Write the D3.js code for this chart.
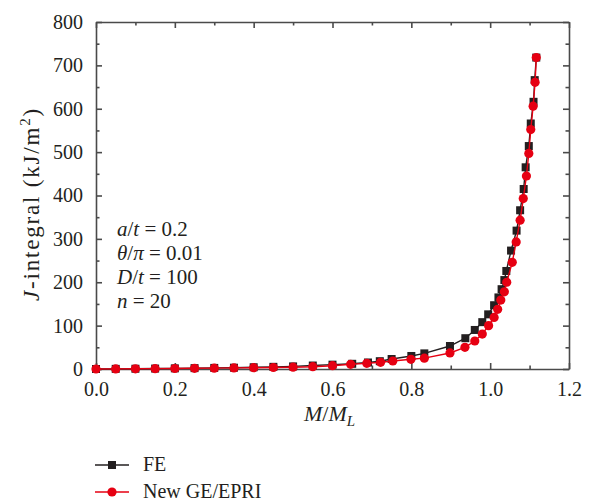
<!DOCTYPE html>
<html>
<head>
<meta charset="utf-8">
<script src="https://cdn.jsdelivr.net/npm/d3@7"></script>
<style>
    body { margin: 0; background: #fff; }
    #plate text { font-family: "Liberation Serif" !important; }
    .axis path, .axis line { stroke: #4a4a4a; stroke-width: 1.6; }
</style>
</head>
<body>
<svg id="plate" width="597" height="501" font-family="Liberation Serif"></svg>
<script>
// FE results
var feX = [0, 0.05, 0.1, 0.15, 0.2, 0.25, 0.3, 0.35, 0.4, 0.45, 0.5, 0.55, 0.6, 0.65, 0.69, 0.72,
    0.75, 0.8, 0.833, 0.898, 0.937, 0.961, 0.98, 0.995, 1.01, 1.021, 1.029, 1.036, 1.041, 1.053,
    1.067, 1.076, 1.085, 1.09, 1.098, 1.103, 1.11, 1.113, 1.117];
var feJ = [0, 0.3, 0.6, 1, 1.5, 2, 2.5, 3, 4, 5, 6, 8, 10, 12, 15, 18,
    23, 30, 36, 53, 71, 90, 108, 126, 147, 165, 184, 205, 226, 273,
    319, 366, 415, 465, 514, 566, 616, 666, 718];

// New GE/EPRI estimation
var geX = [0, 0.05, 0.1, 0.15, 0.2, 0.25, 0.3, 0.35, 0.4, 0.45, 0.5, 0.55, 0.6, 0.646, 0.687, 0.722,
    0.753, 0.799, 0.833, 0.898, 0.936, 0.961, 0.98, 0.996, 1.01, 1.019, 1.027, 1.036, 1.042, 1.056,
    1.066, 1.076, 1.084, 1.092, 1.098, 1.103, 1.109, 1.114, 1.117];
var geJ = [0, 0.2, 0.5, 0.8, 1.2, 1.6, 2, 2.5, 3, 3.5, 4.2, 5.3, 7.6, 10.8, 13, 15.4,
    18.4, 22.4, 25, 37, 50, 64.5, 80.6, 100, 119, 137.5, 159, 178, 200, 246,
    293, 343, 393, 445, 497, 552, 606, 661, 718];

var xTicks = [0, 0.2, 0.4, 0.6, 0.8, 1.0, 1.2];
var xMinor = [0.1, 0.3, 0.5, 0.7, 0.9, 1.1];
var yTicks = [0, 100, 200, 300, 400, 500, 600, 700, 800];
var yMinor = [50, 150, 250, 350, 450, 550, 650, 750];
var notes = [
    [['a', 1], ['/', 0], ['t', 1], [' = 0.2', 0]],
    [['\u03B8', 1], ['/', 0], ['\u03C0', 1], [' = 0.01', 0]],
    [['D', 1], ['/', 0], ['t', 1], [' = 100', 0]],
    [['n', 1], [' = 20', 0]]
];
var legendNames = ['FE', 'New GE/EPRI'];

var black = '#231f20', red = '#e60012';

var margin = {top: 22, right: 28, bottom: 132, left: 96};
var width = 597 - margin.left - margin.right;
var height = 501 - margin.top - margin.bottom;

var x = d3.scaleLinear().domain([0, 1.2]).range([0, width]);
var y = d3.scaleLinear().domain([0, 800]).range([height, 0]);

var svg = d3.select('#plate')
    .append('g')
    .attr('transform', 'translate(' + margin.left + ',' + margin.top + ')');

// minor ticks first
svg.append('g').attr('class', 'axis')
    .attr('transform', 'translate(0,' + height + ')')
    .call(d3.axisBottom(x).tickValues(xMinor).tickSize(-3.5).tickFormat(''))
    .select('.domain').remove();
svg.append('g').attr('class', 'axis')
    .call(d3.axisTop(x).tickValues(xMinor).tickSize(-3.5).tickFormat(''))
    .select('.domain').remove();
svg.append('g').attr('class', 'axis')
    .call(d3.axisLeft(y).tickValues(yMinor).tickSize(-3.5).tickFormat(''))
    .select('.domain').remove();
svg.append('g').attr('class', 'axis')
    .attr('transform', 'translate(' + width + ',0)')
    .call(d3.axisRight(y).tickValues(yMinor).tickSize(-3.5).tickFormat(''))
    .select('.domain').remove();

// major axes
svg.append('g').attr('class', 'axis')
    .attr('transform', 'translate(0,' + height + ')')
    .call(d3.axisBottom(x).tickValues(xTicks).tickSize(-6).tickSizeOuter(0).tickPadding(13)
        .tickFormat(d3.format('.1f')));
svg.append('g').attr('class', 'axis')
    .call(d3.axisTop(x).tickValues(xTicks).tickSize(-6).tickSizeOuter(0).tickFormat(''));
svg.append('g').attr('class', 'axis')
    .call(d3.axisLeft(y).tickValues(yTicks).tickSize(-6).tickSizeOuter(0).tickPadding(13));
svg.append('g').attr('class', 'axis')
    .attr('transform', 'translate(' + width + ',0)')
    .call(d3.axisRight(y).tickValues(yTicks).tickSize(-6).tickSizeOuter(0).tickFormat(''));

svg.selectAll('.axis').attr('font-family', null).attr('font-size', null);
svg.selectAll('.axis text').style('font-size', '20px');

// lines
var feData = feX.map(function(v, i) { return {x: v, j: feJ[i]}; });
var geData = geX.map(function(v, i) { return {x: v, j: geJ[i]}; });
var line = d3.line()
    .x(function(d) { return x(d.x); })
    .y(function(d) { return y(d.j); });

svg.append('path').datum(feData)
    .attr('d', line).attr('fill', 'none').attr('stroke', black).attr('stroke-width', 1.4);
svg.selectAll('.fe').data(feData).enter().append('rect')
    .attr('class', 'fe')
    .attr('x', function(d) { return x(d.x) - 4; })
    .attr('y', function(d) { return y(d.j) - 4; })
    .attr('width', 8).attr('height', 8)
    .attr('fill', black);

svg.append('path').datum(geData)
    .attr('d', line).attr('fill', 'none').attr('stroke', red).attr('stroke-width', 1.4);
svg.selectAll('.ge').data(geData).enter().append('circle')
    .attr('class', 'ge')
    .attr('cx', function(d) { return x(d.x); })
    .attr('cy', function(d) { return y(d.j); })
    .attr('r', 4.6)
    .attr('fill', red);

// axis titles
var yl = svg.append('text')
    .attr('transform', 'translate(-57,182) rotate(-90)')
    .attr('text-anchor', 'middle')
    .style('font-size', '23px')
    .style('letter-spacing', '1.8px');
yl.append('tspan').style('font-style', 'italic').text('J');
yl.append('tspan').text('-integral (kJ/m');
yl.append('tspan').attr('dy', -9).style('font-size', '15px').text('2');
yl.append('tspan').attr('dy', 9).text(')');

var xl = svg.append('text')
    .attr('x', width / 2 - 3)
    .attr('y', height + 52)
    .attr('text-anchor', 'middle')
    .style('font-size', '22px');
xl.append('tspan').style('font-style', 'italic').text('M');
xl.append('tspan').text('/');
xl.append('tspan').style('font-style', 'italic').text('M');
xl.append('tspan').attr('dy', 5).style('font-style', 'italic').style('font-size', '15px').text('L');

// parameters
notes.forEach(function(parts, i) {
    var t = svg.append('text')
        .attr('x', 21)
        .attr('y', y(0) - 133 + i * 24)
        .style('font-size', '21px')
        .attr('xml:space', 'preserve');
    parts.forEach(function(p) {
        t.append('tspan').style('font-style', p[1] ? 'italic' : 'normal').text(p[0]);
    });
});

// legend
var legend = d3.select('#plate').append('g').attr('transform', 'translate(95,465)');
legendNames.forEach(function(name, i) {
    var g = legend.append('g').attr('transform', 'translate(0,' + (i * 27) + ')');
    var c = i === 0 ? black : red;
    g.append('line').attr('x1', 0).attr('x2', 34).attr('y1', 0).attr('y2', 0)
        .attr('stroke', c).attr('stroke-width', 1.4);
    if (i === 0) {
        g.append('rect').attr('x', 13).attr('y', -4).attr('width', 8).attr('height', 8).attr('fill', c);
    } else {
        g.append('circle').attr('cx', 17).attr('cy', 0).attr('r', 4.6).attr('fill', c);
    }
    g.append('text').attr('x', 48).attr('y', 6).style('font-size', '20px').text(name);
});

d3.selectAll('#plate text').style('font-family', '"Liberation Serif"').attr('fill', black);
</script>
</body>
</html>
